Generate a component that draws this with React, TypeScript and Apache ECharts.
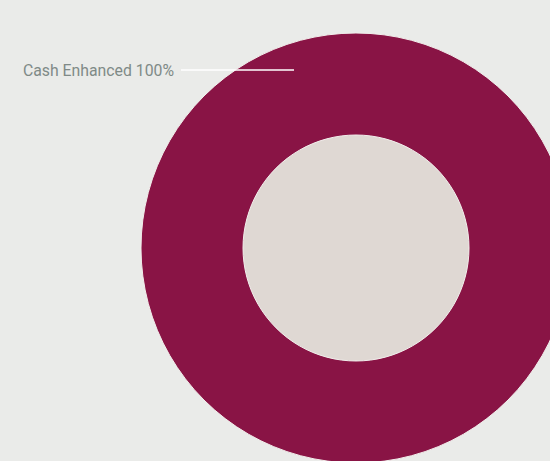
import React, { useEffect, useRef } from "react";
import * as echarts from "echarts";

const categories = ["Cash Enhanced"];
const values = [100];

export default function App() {
  const ref = useRef<HTMLDivElement>(null);
  useEffect(() => {
    if (!ref.current) return;
    const chart = echarts.init(ref.current, undefined, { renderer: "svg" });
    const cx = 356;
    const cy = 248;
    const data = categories.map((c, i) => ({ name: c, value: values[i] }));
    chart.setOption({
      animation: false,
      backgroundColor: "#eaebe9",
      series: [
        {
          type: "pie",
          center: [cx, cy],
          radius: [0, 113],
          silent: true,
          z: 1,
          label: { show: false },
          labelLine: { show: false },
          itemStyle: { color: "#dfd8d3" },
          data: [{ name: "", value: 1 }],
        },
        {
          type: "pie",
          center: [cx, cy],
          radius: [113, 215],
          startAngle: 90,
          z: 2,
          itemStyle: { color: "#891445", borderColor: "#f2efec", borderWidth: 1 },
          label: { show: false },
          labelLine: { show: false },
          data,
        },
        {
          type: "pie",
          center: [cx, cy],
          radius: [113, 215],
          startAngle: 90,
          z: 3,
          silent: true,
          itemStyle: { color: "rgba(0,0,0,0)", borderWidth: 0 },
          label: {
            show: true,
            position: "outside",
            formatter: "{b} {c}%",
            color: "#7f8a87",
            fontSize: 15.8,
            fontFamily: "Roboto",
          },
          labelLine: {
            show: true,
            lineStyle: { color: "#ffffff", width: 1.5 },
          },
          labelLayout: () => ({
            x: cx - 182,
            y: 70,
            align: "right",
            verticalAlign: "middle",
            labelLinePoints: [
              [cx - 62, 70],
              [cx - 175, 70],
              [cx - 175, 70],
            ],
          }),
          data,
        },
      ],
    });
    return () => chart.dispose();
  }, []);
  return (
    <div
      ref={ref}
      style={{ position: "fixed", left: 0, top: 0, width: 550, height: 461 }}
    />
  );
}
